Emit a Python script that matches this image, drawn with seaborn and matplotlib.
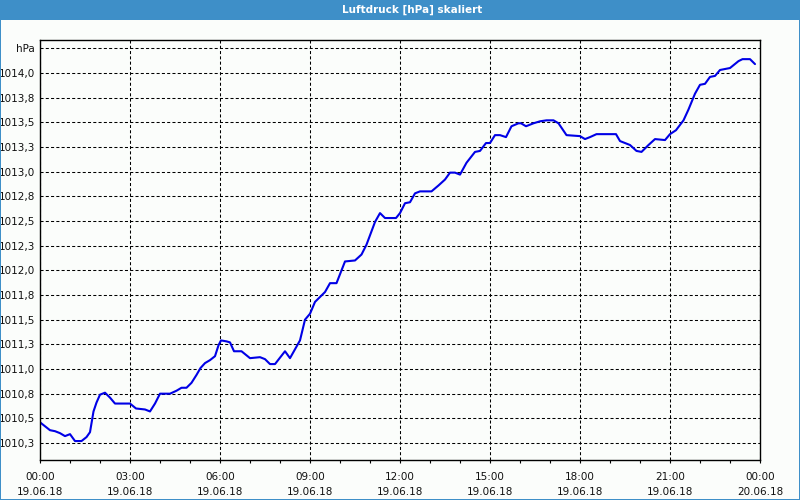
import matplotlib
matplotlib.use("Agg")
import matplotlib.pyplot as plt
import matplotlib.dates as mdates
from matplotlib.patches import Rectangle
import seaborn as sns
import pandas as pd

# ---------------- data ----------------
title = "Luftdruck [hPa] skaliert"
day = "2018-06-19"
times = [
    "00:00", "00:20", "00:30", "00:40", "00:50", "01:00", "01:10", "01:23", "01:33", "01:40",
    "01:47", "01:53", "02:00", "02:10", "02:20", "02:30", "03:00", "03:12", "03:30", "03:40",
    "03:50", "04:00", "04:20", "04:33", "04:43", "04:53", "05:03", "05:13", "05:21", "05:30",
    "05:40", "05:50", "05:57", "06:02", "06:13", "06:20", "06:28", "06:43", "07:00", "07:20",
    "07:30", "07:40", "07:50", "08:10", "08:20", "08:40", "08:50", "09:00", "09:10", "09:30",
    "09:40", "09:53", "10:10", "10:30", "10:43", "10:53", "11:10", "11:20", "11:30", "11:52",
    "12:00", "12:10", "12:20", "12:30", "12:40", "13:03", "13:17", "13:30", "13:40", "13:50",
    "14:00", "14:13", "14:30", "14:40", "14:52", "15:00", "15:10", "15:20", "15:32", "15:43",
    "15:57", "16:02", "16:12", "16:27", "16:40", "16:53", "17:07", "17:17", "17:33", "18:00",
    "18:10", "18:20", "18:33", "19:12", "19:20", "19:40", "19:53", "20:03", "20:17", "20:30",
    "20:50", "21:00", "21:12", "21:27", "21:37", "21:50", "22:00", "22:10", "22:20", "22:30",
    "22:40", "23:00", "23:17", "23:25", "23:40", "23:50",
]
pressure = [
    1010.46, 1010.38, 1010.37, 1010.35, 1010.32, 1010.34, 1010.27, 1010.27, 1010.31, 1010.36,
    1010.57, 1010.66, 1010.74, 1010.76, 1010.71, 1010.65, 1010.65, 1010.60, 1010.59, 1010.57,
    1010.65, 1010.75, 1010.75, 1010.78, 1010.81, 1010.81, 1010.86, 1010.94, 1011.01, 1011.06,
    1011.09, 1011.13, 1011.24, 1011.29, 1011.28, 1011.27, 1011.18, 1011.18, 1011.11, 1011.12,
    1011.10, 1011.05, 1011.05, 1011.18, 1011.11, 1011.29, 1011.50, 1011.56, 1011.68, 1011.78,
    1011.87, 1011.87, 1012.09, 1012.10, 1012.16, 1012.26, 1012.49, 1012.58, 1012.53, 1012.53,
    1012.58, 1012.68, 1012.69, 1012.78, 1012.80, 1012.80, 1012.86, 1012.92, 1012.99, 1012.99,
    1012.97, 1013.09, 1013.20, 1013.21, 1013.29, 1013.29, 1013.37, 1013.37, 1013.35, 1013.46,
    1013.49, 1013.49, 1013.46, 1013.49, 1013.51, 1013.52, 1013.52, 1013.49, 1013.37, 1013.36,
    1013.33, 1013.35, 1013.38, 1013.38, 1013.31, 1013.27, 1013.21, 1013.20, 1013.27, 1013.33,
    1013.32, 1013.38, 1013.42, 1013.52, 1013.63, 1013.79, 1013.88, 1013.89, 1013.96, 1013.97,
    1014.03, 1014.05, 1014.12, 1014.14, 1014.14, 1014.09,
]
y_ticks = [1010.25, 1010.5, 1010.75, 1011.0, 1011.25, 1011.5, 1011.75, 1012.0, 1012.25,
           1012.5, 1012.75, 1013.0, 1013.25, 1013.5, 1013.75, 1014.0, 1014.25]
y_labels = ["1010,3", "1010,5", "1010,8", "1011,0", "1011,3", "1011,5", "1011,8", "1012,0",
            "1012,3", "1012,5", "1012,8", "1013,0", "1013,3", "1013,5", "1013,8", "1014,0", "hPa"]

# ---------------- style ----------------
sns.set_style("white")
plt.rcParams['font.family'] = ['DejaVu Sans']
plt.rcParams['lines.scale_dashes'] = False

bg = "#FBFDFB"
bar_blue = "#3E8FC8"

df = pd.DataFrame({
    "time": pd.to_datetime(day + " " + pd.Series(times)),
    "hPa": pressure,
})

fig = plt.figure(figsize=(8, 5), dpi=100, facecolor=bg)
ax = fig.add_axes([0.05, 0.08, 0.90, 0.84])
ax.set_facecolor(bg)

sns.lineplot(data=df, x="time", y="hPa", color="#0000E6", lw=1.5, ax=ax)

ax.set_xlim(pd.Timestamp("2018-06-19 00:00"), pd.Timestamp("2018-06-20 00:00"))
ax.set_ylim(1010.078, 1014.334)
ax.xaxis.set_major_locator(mdates.HourLocator(byhour=range(0, 24, 3)))
ax.xaxis.set_major_formatter(mdates.DateFormatter("%H:%M\n%d.%m.%y"))
ax.xaxis.set_minor_locator(mdates.HourLocator())
ax.set_yticks(y_ticks)
ax.set_yticklabels(y_labels)

ax.grid(True, which="major", color="black", ls=(0, (2.2, 1.6)), lw=0.75)
ax.tick_params(axis="x", which="both", direction="out", length=2.5, width=0.8,
               color="black", bottom=True, pad=6, labelsize=7.5, labelcolor="#111111")
ax.tick_params(axis="y", length=0, pad=3.5, labelsize=7.5, labelcolor="#111111")
for s in ax.spines.values():
    s.set_visible(True)
    s.set_color("black")
    s.set_linewidth(1.0)
ax.set_xlabel("")
ax.set_ylabel("")

fig.canvas.draw()
for lbl in ax.get_xticklabels():
    lbl.set_linespacing(1.6)

# title bar and frame
fig.patches.append(Rectangle((0, 0.96), 1, 0.04, transform=fig.transFigure,
                             facecolor=bar_blue, edgecolor="none", zorder=0))
fig.patches.append(Rectangle((0, 0), 0.0018, 1, transform=fig.transFigure,
                             facecolor=bar_blue, edgecolor="none", zorder=0))
fig.patches.append(Rectangle((0.9982, 0), 0.0018, 1, transform=fig.transFigure,
                             facecolor=bar_blue, edgecolor="none", zorder=0))
fig.patches.append(Rectangle((0, 0), 1, 0.003, transform=fig.transFigure,
                             facecolor=bar_blue, edgecolor="none", zorder=0))
fig.text(0.515, 0.98, title, color="white", fontsize=7.5, fontweight="bold",
         ha="center", va="center")

fig.savefig("out.png", dpi=100, facecolor=bg)
